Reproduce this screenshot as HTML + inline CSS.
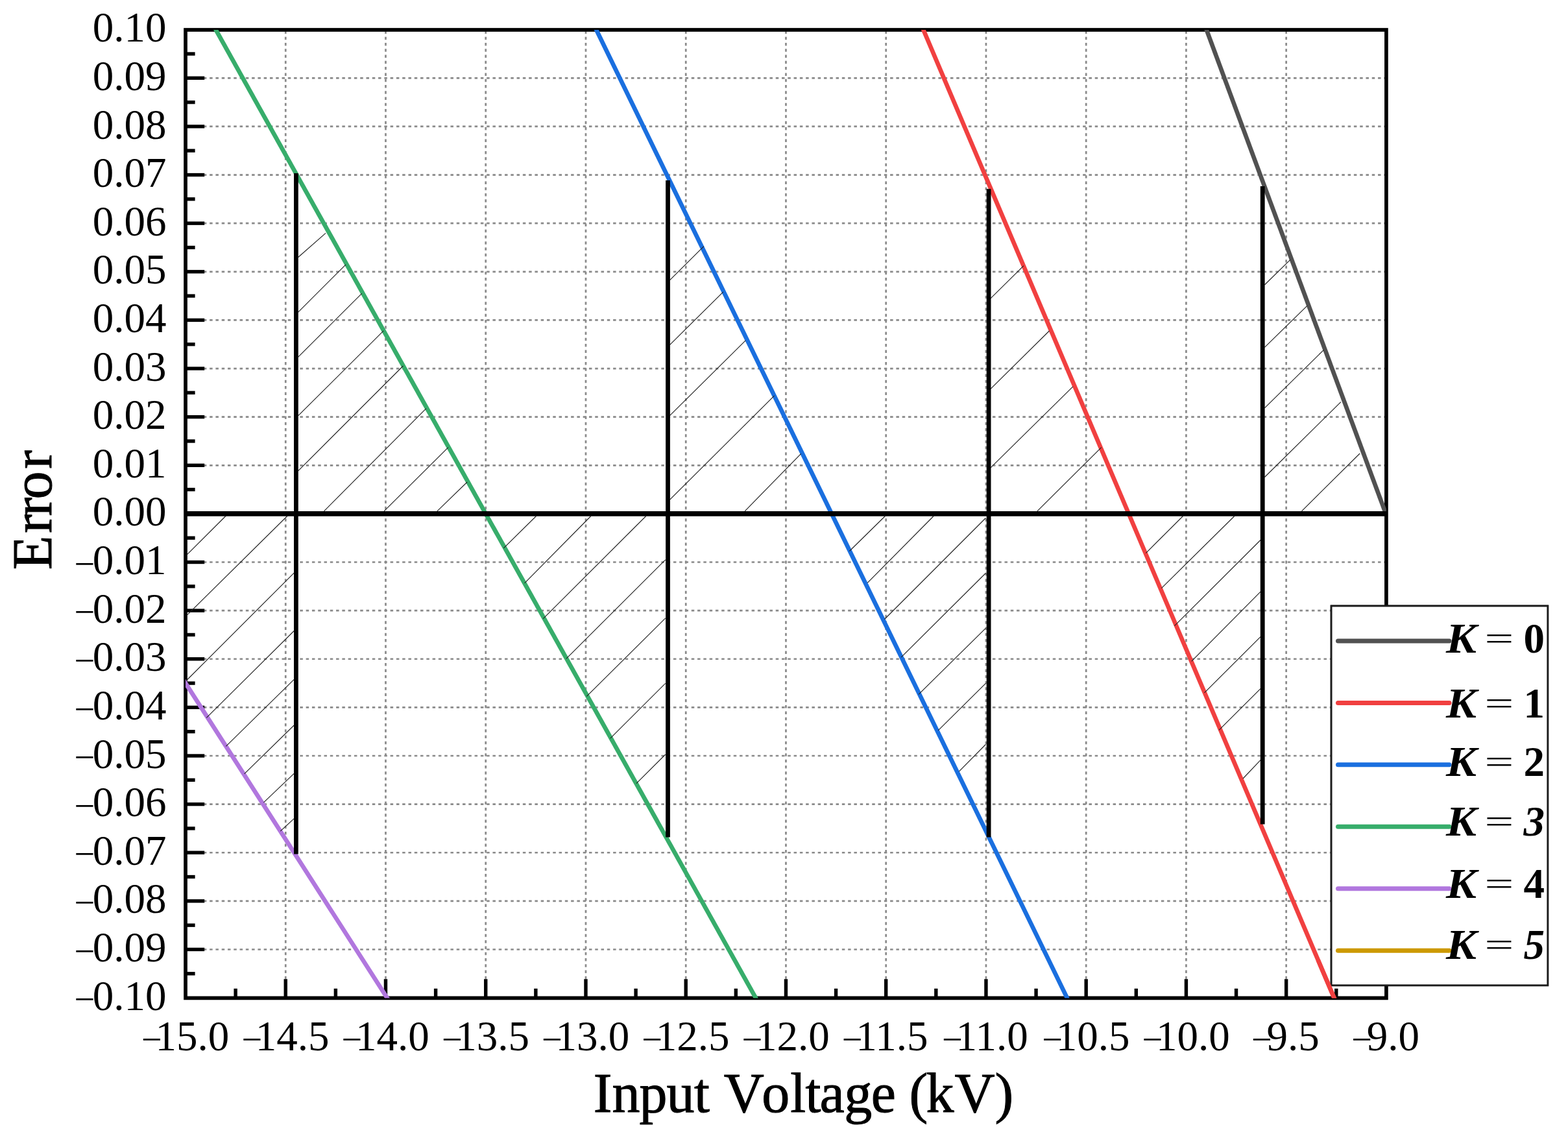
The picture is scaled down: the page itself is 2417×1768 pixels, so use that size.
<!DOCTYPE html>
<html lang="en"><head><meta charset="utf-8"><title>Error vs Input Voltage</title>
<style>
html,body{margin:0;padding:0;background:#fff;}
body{width:2417px;height:1768px;overflow:hidden;}
svg{display:block;}
text{font-family:"Liberation Serif","Times New Roman",serif;fill:#000;}
.tk{font-size:65px;}
.ttl{font-size:86px;stroke:#000;stroke-width:1px;}
.lg{font-size:65px;font-weight:bold;}
.mn{font-size:56.3px;}
.eq{font-size:50px;font-weight:normal;}
</style></head><body>
<svg width="2417" height="1768" viewBox="0 0 2417 1768" role="img" aria-label="Error versus Input Voltage (kV) for K = 0 to 5">
<rect x="0" y="0" width="2417" height="1768" fill="#fff"/>
<defs><clipPath id="pc"><rect x="286.0" y="46.0" width="1850.9" height="1492.4"/></clipPath></defs>
<g stroke="#8a8a8a" stroke-width="2.7" stroke-dasharray="4.5 4.783" fill="none">
<line x1="286.0" y1="1463.48" x2="2136.9" y2="1463.48"/>
<line x1="286.0" y1="1388.86" x2="2136.9" y2="1388.86"/>
<line x1="286.0" y1="1314.24" x2="2136.9" y2="1314.24"/>
<line x1="286.0" y1="1239.62" x2="2136.9" y2="1239.62"/>
<line x1="286.0" y1="1165.00" x2="2136.9" y2="1165.00"/>
<line x1="286.0" y1="1090.38" x2="2136.9" y2="1090.38"/>
<line x1="286.0" y1="1015.76" x2="2136.9" y2="1015.76"/>
<line x1="286.0" y1="941.14" x2="2136.9" y2="941.14"/>
<line x1="286.0" y1="866.52" x2="2136.9" y2="866.52"/>
<line x1="286.0" y1="717.28" x2="2136.9" y2="717.28"/>
<line x1="286.0" y1="642.66" x2="2136.9" y2="642.66"/>
<line x1="286.0" y1="568.04" x2="2136.9" y2="568.04"/>
<line x1="286.0" y1="493.42" x2="2136.9" y2="493.42"/>
<line x1="286.0" y1="418.80" x2="2136.9" y2="418.80"/>
<line x1="286.0" y1="344.18" x2="2136.9" y2="344.18"/>
<line x1="286.0" y1="269.56" x2="2136.9" y2="269.56"/>
<line x1="286.0" y1="194.94" x2="2136.9" y2="194.94"/>
<line x1="286.0" y1="120.32" x2="2136.9" y2="120.32"/>
<line x1="440.24" y1="47.4" x2="440.24" y2="1538.4"/>
<line x1="594.48" y1="47.4" x2="594.48" y2="1538.4"/>
<line x1="748.73" y1="47.4" x2="748.73" y2="1538.4"/>
<line x1="902.97" y1="47.4" x2="902.97" y2="1538.4"/>
<line x1="1057.21" y1="47.4" x2="1057.21" y2="1538.4"/>
<line x1="1211.45" y1="47.4" x2="1211.45" y2="1538.4"/>
<line x1="1365.69" y1="47.4" x2="1365.69" y2="1538.4"/>
<line x1="1519.93" y1="47.4" x2="1519.93" y2="1538.4"/>
<line x1="1674.18" y1="47.4" x2="1674.18" y2="1538.4"/>
<line x1="1828.42" y1="47.4" x2="1828.42" y2="1538.4"/>
<line x1="1982.66" y1="47.4" x2="1982.66" y2="1538.4"/>
</g>
<rect x="286.0" y="46.0" width="1850.9" height="1492.4" fill="none" stroke="#000" stroke-width="5.7"/>
<g stroke="#000" stroke-width="5.4" fill="none">
<line x1="286.0" y1="1463.48" x2="315.2" y2="1463.48"/>
<line x1="286.0" y1="1388.86" x2="315.2" y2="1388.86"/>
<line x1="286.0" y1="1314.24" x2="315.2" y2="1314.24"/>
<line x1="286.0" y1="1239.62" x2="315.2" y2="1239.62"/>
<line x1="286.0" y1="1165.00" x2="315.2" y2="1165.00"/>
<line x1="286.0" y1="1090.38" x2="315.2" y2="1090.38"/>
<line x1="286.0" y1="1015.76" x2="315.2" y2="1015.76"/>
<line x1="286.0" y1="941.14" x2="315.2" y2="941.14"/>
<line x1="286.0" y1="866.52" x2="315.2" y2="866.52"/>
<line x1="286.0" y1="791.90" x2="315.2" y2="791.90"/>
<line x1="286.0" y1="717.28" x2="315.2" y2="717.28"/>
<line x1="286.0" y1="642.66" x2="315.2" y2="642.66"/>
<line x1="286.0" y1="568.04" x2="315.2" y2="568.04"/>
<line x1="286.0" y1="493.42" x2="315.2" y2="493.42"/>
<line x1="286.0" y1="418.80" x2="315.2" y2="418.80"/>
<line x1="286.0" y1="344.18" x2="315.2" y2="344.18"/>
<line x1="286.0" y1="269.56" x2="315.2" y2="269.56"/>
<line x1="286.0" y1="194.94" x2="315.2" y2="194.94"/>
<line x1="286.0" y1="120.32" x2="315.2" y2="120.32"/>
<line x1="286.0" y1="1500.79" x2="300.6" y2="1500.79"/>
<line x1="286.0" y1="1426.17" x2="300.6" y2="1426.17"/>
<line x1="286.0" y1="1351.55" x2="300.6" y2="1351.55"/>
<line x1="286.0" y1="1276.93" x2="300.6" y2="1276.93"/>
<line x1="286.0" y1="1202.31" x2="300.6" y2="1202.31"/>
<line x1="286.0" y1="1127.69" x2="300.6" y2="1127.69"/>
<line x1="286.0" y1="1053.07" x2="300.6" y2="1053.07"/>
<line x1="286.0" y1="978.45" x2="300.6" y2="978.45"/>
<line x1="286.0" y1="903.83" x2="300.6" y2="903.83"/>
<line x1="286.0" y1="829.21" x2="300.6" y2="829.21"/>
<line x1="286.0" y1="754.59" x2="300.6" y2="754.59"/>
<line x1="286.0" y1="679.97" x2="300.6" y2="679.97"/>
<line x1="286.0" y1="605.35" x2="300.6" y2="605.35"/>
<line x1="286.0" y1="530.73" x2="300.6" y2="530.73"/>
<line x1="286.0" y1="456.11" x2="300.6" y2="456.11"/>
<line x1="286.0" y1="381.49" x2="300.6" y2="381.49"/>
<line x1="286.0" y1="306.87" x2="300.6" y2="306.87"/>
<line x1="286.0" y1="232.25" x2="300.6" y2="232.25"/>
<line x1="286.0" y1="157.63" x2="300.6" y2="157.63"/>
<line x1="286.0" y1="83.01" x2="300.6" y2="83.01"/>
<line x1="440.24" y1="1538.4" x2="440.24" y2="1509.2"/>
<line x1="594.48" y1="1538.4" x2="594.48" y2="1509.2"/>
<line x1="748.73" y1="1538.4" x2="748.73" y2="1509.2"/>
<line x1="902.97" y1="1538.4" x2="902.97" y2="1509.2"/>
<line x1="1057.21" y1="1538.4" x2="1057.21" y2="1509.2"/>
<line x1="1211.45" y1="1538.4" x2="1211.45" y2="1509.2"/>
<line x1="1365.69" y1="1538.4" x2="1365.69" y2="1509.2"/>
<line x1="1519.93" y1="1538.4" x2="1519.93" y2="1509.2"/>
<line x1="1674.18" y1="1538.4" x2="1674.18" y2="1509.2"/>
<line x1="1828.42" y1="1538.4" x2="1828.42" y2="1509.2"/>
<line x1="1982.66" y1="1538.4" x2="1982.66" y2="1509.2"/>
<line x1="363.12" y1="1538.4" x2="363.12" y2="1523.8"/>
<line x1="517.36" y1="1538.4" x2="517.36" y2="1523.8"/>
<line x1="671.60" y1="1538.4" x2="671.60" y2="1523.8"/>
<line x1="825.85" y1="1538.4" x2="825.85" y2="1523.8"/>
<line x1="980.09" y1="1538.4" x2="980.09" y2="1523.8"/>
<line x1="1134.33" y1="1538.4" x2="1134.33" y2="1523.8"/>
<line x1="1288.57" y1="1538.4" x2="1288.57" y2="1523.8"/>
<line x1="1442.81" y1="1538.4" x2="1442.81" y2="1523.8"/>
<line x1="1597.05" y1="1538.4" x2="1597.05" y2="1523.8"/>
<line x1="1751.30" y1="1538.4" x2="1751.30" y2="1523.8"/>
<line x1="1905.54" y1="1538.4" x2="1905.54" y2="1523.8"/>
<line x1="2059.78" y1="1538.4" x2="2059.78" y2="1523.8"/>
</g>
<rect x="2052.1" y="934.0" width="333.7" height="584.8" fill="#fff" stroke="#1c1c1c" stroke-width="2.8"/>
<g clip-path="url(#pc)" fill="none" stroke-width="6.7">
<line x1="1852.4" y1="26.0" x2="2136.2" y2="791.9" stroke="#515151"/>
<line x1="1414.9" y1="26.0" x2="2065.1" y2="1558.4" stroke="#F14040"/>
<line x1="909.5" y1="26.0" x2="1654.7" y2="1558.4" stroke="#1A6FDF"/>
<line x1="321.6" y1="26.0" x2="1176.2" y2="1558.4" stroke="#37AD6B"/>
<line x1="264.9" y1="1020.0" x2="609.7" y2="1558.4" stroke="#B177DE"/>
</g>
<g stroke="#222" stroke-width="1.15" fill="none">
<line x1="459.4" y1="396.7" x2="502.0" y2="359.4"/>
<line x1="459.4" y1="481.4" x2="533.0" y2="407.8"/>
<line x1="459.3" y1="550.7" x2="557.7" y2="452.3"/>
<line x1="459.3" y1="641.2" x2="591.2" y2="509.9"/>
<line x1="459.3" y1="726.1" x2="621.4" y2="564.0"/>
<line x1="499.5" y1="787.8" x2="656.9" y2="629.7"/>
<line x1="592.1" y1="787.8" x2="690.9" y2="689.6"/>
<line x1="673.9" y1="787.8" x2="720.2" y2="743.0"/>
<line x1="288.3" y1="854.9" x2="348.3" y2="795.0"/>
<line x1="288.3" y1="948.2" x2="443.2" y2="795.0"/>
<line x1="288.3" y1="1048.0" x2="453.2" y2="883.2"/>
<line x1="318.3" y1="1106.3" x2="453.2" y2="972.5"/>
<line x1="348.3" y1="1150.3" x2="453.2" y2="1047.4"/>
<line x1="376.6" y1="1192.9" x2="453.2" y2="1118.0"/>
<line x1="406.5" y1="1236.9" x2="453.2" y2="1192.3"/>
<line x1="432.2" y1="1281.2" x2="453.2" y2="1261.9"/>
<line x1="1032.4" y1="431.9" x2="1084.9" y2="379.7"/>
<line x1="1032.4" y1="531.6" x2="1114.9" y2="449.8"/>
<line x1="1032.4" y1="640.6" x2="1149.2" y2="524.8"/>
<line x1="1032.4" y1="770.3" x2="1193.6" y2="609.8"/>
<line x1="1148.2" y1="787.8" x2="1234.7" y2="699.3"/>
<line x1="776.4" y1="844.9" x2="826.5" y2="795.5"/>
<line x1="808.6" y1="898.9" x2="910.8" y2="795.5"/>
<line x1="837.3" y1="953.6" x2="995.7" y2="795.5"/>
<line x1="872.8" y1="1015.3" x2="1025.7" y2="862.8"/>
<line x1="904.3" y1="1073.4" x2="1025.7" y2="952.9"/>
<line x1="940.7" y1="1138.2" x2="1025.7" y2="1053.3"/>
<line x1="980.9" y1="1207.7" x2="1025.7" y2="1163.0"/>
<line x1="1526.3" y1="460.6" x2="1577.9" y2="409.6"/>
<line x1="1526.3" y1="600.2" x2="1617.4" y2="510.0"/>
<line x1="1526.3" y1="721.6" x2="1653.9" y2="595.9"/>
<line x1="1598.9" y1="787.8" x2="1697.7" y2="689.7"/>
<line x1="1309.4" y1="849.5" x2="1364.4" y2="795.5"/>
<line x1="1337.2" y1="898.3" x2="1439.1" y2="795.5"/>
<line x1="1363.5" y1="954.5" x2="1519.4" y2="798.5"/>
<line x1="1389.1" y1="1013.2" x2="1519.4" y2="883.5"/>
<line x1="1416.0" y1="1070.3" x2="1519.4" y2="968.4"/>
<line x1="1446.2" y1="1125.9" x2="1519.4" y2="1053.3"/>
<line x1="1478.3" y1="1189.2" x2="1519.4" y2="1147.5"/>
<line x1="1949.4" y1="439.0" x2="1988.9" y2="400.4"/>
<line x1="1949.4" y1="535.3" x2="2014.9" y2="471.4"/>
<line x1="1949.4" y1="628.9" x2="2040.5" y2="539.3"/>
<line x1="1949.4" y1="735.5" x2="2066.8" y2="619.6"/>
<line x1="2006.5" y1="787.8" x2="2096.1" y2="699.0"/>
<line x1="1766.3" y1="852.6" x2="1823.5" y2="795.5"/>
<line x1="1790.4" y1="906.6" x2="1902.8" y2="795.5"/>
<line x1="1810.5" y1="964.7" x2="1943.0" y2="832.5"/>
<line x1="1836.7" y1="1019.3" x2="1943.0" y2="912.2"/>
<line x1="1856.5" y1="1067.8" x2="1943.0" y2="981.7"/>
<line x1="1879.0" y1="1125.3" x2="1943.0" y2="1061.7"/>
<line x1="1916.1" y1="1200.0" x2="1943.0" y2="1171.6"/>
</g>
<line x1="286.0" y1="791.9" x2="2136.9" y2="791.9" stroke="#000" stroke-width="7.8"/>
<g stroke="#000" stroke-width="6.8" fill="none">
<line x1="456.4" y1="267.0" x2="456.4" y2="1316.6"/>
<line x1="1029.5" y1="278.0" x2="1029.5" y2="1290.6"/>
<line x1="1524.1" y1="291.2" x2="1524.1" y2="1290.6"/>
<line x1="1946.2" y1="287.1" x2="1946.2" y2="1270.6"/>
</g>
<rect x="2052.1" y="934.0" width="333.7" height="584.8" fill="#fff" stroke="#1c1c1c" stroke-width="2.8"/>
<g clip-path="url(#pc)"><line x1="2031.8" y1="1480.0" x2="2065.1" y2="1558.4" stroke="#F14040" stroke-width="6.7"/></g>
<g stroke-width="7" stroke-linecap="round" fill="none">
<line x1="2062.5" y1="987.9" x2="2234" y2="987.9" stroke="#515151"/>
<line x1="2062.5" y1="1083.4" x2="2234" y2="1083.4" stroke="#F14040"/>
<line x1="2062.5" y1="1178.8" x2="2234" y2="1178.8" stroke="#1A6FDF"/>
<line x1="2062.5" y1="1274.3" x2="2234" y2="1274.3" stroke="#37AD6B"/>
<line x1="2062.5" y1="1369.8" x2="2234" y2="1369.8" stroke="#B177DE"/>
<line x1="2062.5" y1="1465.3" x2="2234" y2="1465.3" stroke="#CC9900"/>
</g>
<text class="lg" y="1006.0"><tspan x="2229" font-style="italic" textLength="47" lengthAdjust="spacingAndGlyphs">K</tspan> <tspan class="eq" x="2288.6" dy="-5" textLength="44.8" lengthAdjust="spacingAndGlyphs">=</tspan> <tspan x="2348.5" dy="5">0</tspan></text>
<text class="lg" y="1106.0"><tspan x="2229" font-style="italic" textLength="47" lengthAdjust="spacingAndGlyphs">K</tspan> <tspan class="eq" x="2288.6" dy="-5" textLength="44.8" lengthAdjust="spacingAndGlyphs">=</tspan> <tspan x="2348.5" dy="5">1</tspan></text>
<text class="lg" y="1196.0"><tspan x="2229" font-style="italic" textLength="47" lengthAdjust="spacingAndGlyphs">K</tspan> <tspan class="eq" x="2288.6" dy="-5" textLength="44.8" lengthAdjust="spacingAndGlyphs">=</tspan> <tspan x="2348.5" dy="5">2</tspan></text>
<text class="lg" y="1288.0"><tspan x="2229" font-style="italic" textLength="47" lengthAdjust="spacingAndGlyphs">K</tspan> <tspan class="eq" x="2288.6" dy="-5" textLength="44.8" lengthAdjust="spacingAndGlyphs">=</tspan> <tspan x="2348.5" dy="5" font-style="italic">3</tspan></text>
<text class="lg" y="1384.2"><tspan x="2229" font-style="italic" textLength="47" lengthAdjust="spacingAndGlyphs">K</tspan> <tspan class="eq" x="2288.6" dy="-5" textLength="44.8" lengthAdjust="spacingAndGlyphs">=</tspan> <tspan x="2348.5" dy="5">4</tspan></text>
<text class="lg" y="1478.0"><tspan x="2229" font-style="italic" textLength="47" lengthAdjust="spacingAndGlyphs">K</tspan> <tspan class="eq" x="2288.6" dy="-5" textLength="44.8" lengthAdjust="spacingAndGlyphs">=</tspan> <tspan x="2348.5" dy="5" font-style="italic">5</tspan></text>
<text class="tk" y="1556.5"><tspan class="mn" x="114.4" dy="2.7">−</tspan><tspan x="142.8" dy="-2.7">0.10</tspan></text>
<text class="tk" y="1481.9"><tspan class="mn" x="114.4" dy="2.7">−</tspan><tspan x="142.8" dy="-2.7">0.09</tspan></text>
<text class="tk" y="1407.3"><tspan class="mn" x="114.4" dy="2.7">−</tspan><tspan x="142.8" dy="-2.7">0.08</tspan></text>
<text class="tk" y="1332.7"><tspan class="mn" x="114.4" dy="2.7">−</tspan><tspan x="142.8" dy="-2.7">0.07</tspan></text>
<text class="tk" y="1258.1"><tspan class="mn" x="114.4" dy="2.7">−</tspan><tspan x="142.8" dy="-2.7">0.06</tspan></text>
<text class="tk" y="1183.5"><tspan class="mn" x="114.4" dy="2.7">−</tspan><tspan x="142.8" dy="-2.7">0.05</tspan></text>
<text class="tk" y="1108.9"><tspan class="mn" x="114.4" dy="2.7">−</tspan><tspan x="142.8" dy="-2.7">0.04</tspan></text>
<text class="tk" y="1034.3"><tspan class="mn" x="114.4" dy="2.7">−</tspan><tspan x="142.8" dy="-2.7">0.03</tspan></text>
<text class="tk" y="959.7"><tspan class="mn" x="114.4" dy="2.7">−</tspan><tspan x="142.8" dy="-2.7">0.02</tspan></text>
<text class="tk" y="885.1"><tspan class="mn" x="114.4" dy="2.7">−</tspan><tspan x="142.8" dy="-2.7">0.01</tspan></text>
<text class="tk" x="142.8" y="810.4">0.00</text>
<text class="tk" x="142.8" y="735.8">0.01</text>
<text class="tk" x="142.8" y="661.2">0.02</text>
<text class="tk" x="142.8" y="586.6">0.03</text>
<text class="tk" x="142.8" y="512.0">0.04</text>
<text class="tk" x="142.8" y="437.4">0.05</text>
<text class="tk" x="142.8" y="362.8">0.06</text>
<text class="tk" x="142.8" y="288.2">0.07</text>
<text class="tk" x="142.8" y="213.6">0.08</text>
<text class="tk" x="142.8" y="139.0">0.09</text>
<text class="tk" x="142.8" y="64.4">0.10</text>
<text class="tk" y="1618.6"><tspan class="mn" x="218.1" dy="2.7">−</tspan><tspan x="239.6" dy="-2.7">15.0</tspan></text>
<text class="tk" y="1618.6"><tspan class="mn" x="372.4" dy="2.7">−</tspan><tspan x="393.8" dy="-2.7">14.5</tspan></text>
<text class="tk" y="1618.6"><tspan class="mn" x="526.6" dy="2.7">−</tspan><tspan x="548.0" dy="-2.7">14.0</tspan></text>
<text class="tk" y="1618.6"><tspan class="mn" x="680.9" dy="2.7">−</tspan><tspan x="702.3" dy="-2.7">13.5</tspan></text>
<text class="tk" y="1618.6"><tspan class="mn" x="835.1" dy="2.7">−</tspan><tspan x="856.5" dy="-2.7">13.0</tspan></text>
<text class="tk" y="1618.6"><tspan class="mn" x="989.3" dy="2.7">−</tspan><tspan x="1010.8" dy="-2.7">12.5</tspan></text>
<text class="tk" y="1618.6"><tspan class="mn" x="1143.6" dy="2.7">−</tspan><tspan x="1165.0" dy="-2.7">12.0</tspan></text>
<text class="tk" y="1618.6"><tspan class="mn" x="1297.8" dy="2.7">−</tspan><tspan x="1319.2" dy="-2.7">11.5</tspan></text>
<text class="tk" y="1618.6"><tspan class="mn" x="1452.1" dy="2.7">−</tspan><tspan x="1473.5" dy="-2.7">11.0</tspan></text>
<text class="tk" y="1618.6"><tspan class="mn" x="1606.3" dy="2.7">−</tspan><tspan x="1627.7" dy="-2.7">10.5</tspan></text>
<text class="tk" y="1618.6"><tspan class="mn" x="1760.5" dy="2.7">−</tspan><tspan x="1782.0" dy="-2.7">10.0</tspan></text>
<text class="tk" y="1618.6"><tspan class="mn" x="1929.0" dy="2.7">−</tspan><tspan x="1952.5" dy="-2.7">9.5</tspan></text>
<text class="tk" y="1618.6"><tspan class="mn" x="2083.3" dy="2.7">−</tspan><tspan x="2106.7" dy="-2.7">9.0</tspan></text>
<text class="ttl" x="914.7 943.4 985.4 1027.4 1069.9 1093.8 1115.7 1174.2 1218.2 1241.4 1263.4 1301.2 1342.7 1380.9 1401.6 1427.5 1471.5 1533.6" y="1714.2">Input Voltage (kV)</text>
<text class="ttl" transform="translate(79,785.2) rotate(-90)" x="-93.0 -36.5 -10.3 15.7 62.4" y="0">Error</text>
</svg>
</body></html>
